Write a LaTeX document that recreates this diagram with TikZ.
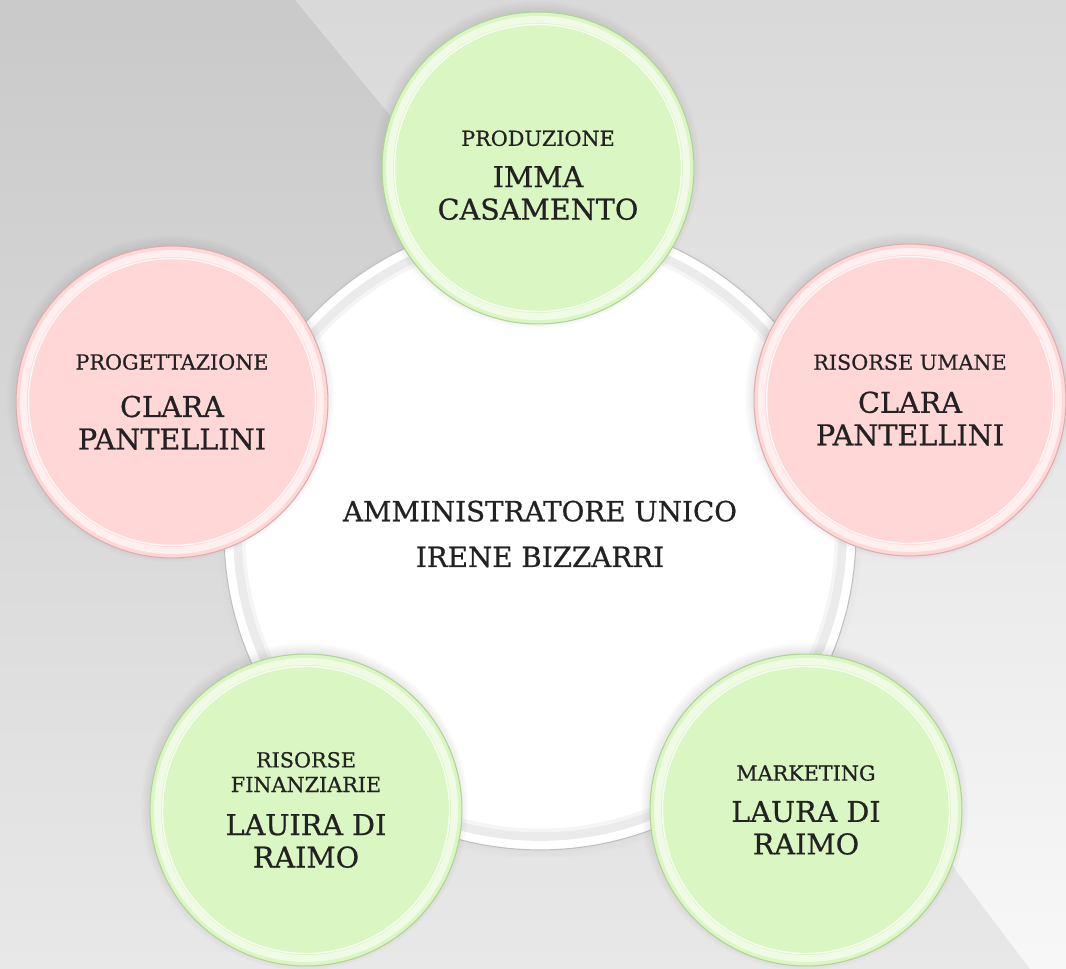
\documentclass[tikz,border=0pt]{standalone}
\usepackage{fontspec}
\setmainfont{DejaVu Serif}[UprightFeatures={FakeBold=0.7}]
\usetikzlibrary{shadows}
\definecolor{ink}{RGB}{34,34,34}
\definecolor{greenfill}{RGB}{218,246,194}
\definecolor{greenedge}{RGB}{176,212,148}
\definecolor{pinkfill}{RGB}{255,215,215}
\definecolor{pinkedge}{RGB}{222,172,172}
\tikzset{
  bubble/.style={
    circle, minimum size=6.24cm, inner sep=0pt, align=center, text=ink,
    font=\fontsize{16.3}{18.5}\selectfont, line width=.6pt,
    circular drop shadow={shadow scale=1.05, shadow xshift=-1pt, shadow yshift=2pt, opacity=.45},
    path picture={
      \draw[line width=4pt, white, opacity=.6] (path picture bounding box.center) circle (2.97cm);
      \draw[line width=.8pt, white, opacity=.8] (path picture bounding box.center) circle (2.87cm);
    }
  },
  greenbubble/.style={bubble, fill=greenfill, draw=greenedge},
  pinkbubble/.style={bubble, fill=pinkfill, draw=pinkedge},
  hub/.style={
    circle, minimum size=12.64cm, inner sep=0pt, align=center, text=ink,
    fill=white, draw=black!25, line width=.6pt,
    font=\fontsize{15.8}{26}\selectfont,
    circular drop shadow={shadow scale=1.02, shadow xshift=0pt, shadow yshift=-1pt, opacity=.3},
    path picture={
      \draw[line width=5pt, black!8] (path picture bounding box.center) circle (6.05cm);
      \draw[line width=2pt, black!4] (path picture bounding box.center) circle (5.93cm);
    }
  }
}
\newcommand{\dept}[1]{{\fontsize{11.8}{14}\selectfont #1}}

\begin{document}
\begin{tikzpicture}[x=0.02cm, y=0.02cm]
  \useasboundingbox (0,0) rectangle (1066,-969);
  % background
  \shade[top color=black!21, bottom color=black!9] (0,0) rectangle (1066,-969);
  \shade[top color=black!15, bottom color=black!3]
    (295,0) -- (1066,0) -- (1066,-969) -- (1030,-969) -- (957,-872) -- (823,-640) -- cycle;

  \node[hub] (hub) at (540,-534) {AMMINISTRATORE UNICO\\IRENE BIZZARRI};

  \node[greenbubble] (prod) at (538,-168) {\dept{\rule{0pt}{17pt}PRODUZIONE}\\[5pt]IMMA\\CASAMENTO};
  \node[pinkbubble] (prog) at (172,-402) {\dept{PROGETTAZIONE}\\[8.5pt]CLARA\\PANTELLINI};
  \node[pinkbubble] (hr) at (910,-400) {\dept{RISORSE UMANE}\\[6pt]CLARA\\PANTELLINI};
  \node[greenbubble] (fin) at (306,-810) {\dept{RISORSE}\\[-4.5pt]\dept{FINANZIARIE}\\[6pt]LAUIRA DI\\RAIMO};
  \node[greenbubble] (mkt) at (806,-810) {\dept{MARKETING}\\[5pt]LAURA DI\\RAIMO};
\end{tikzpicture}
\end{document}
